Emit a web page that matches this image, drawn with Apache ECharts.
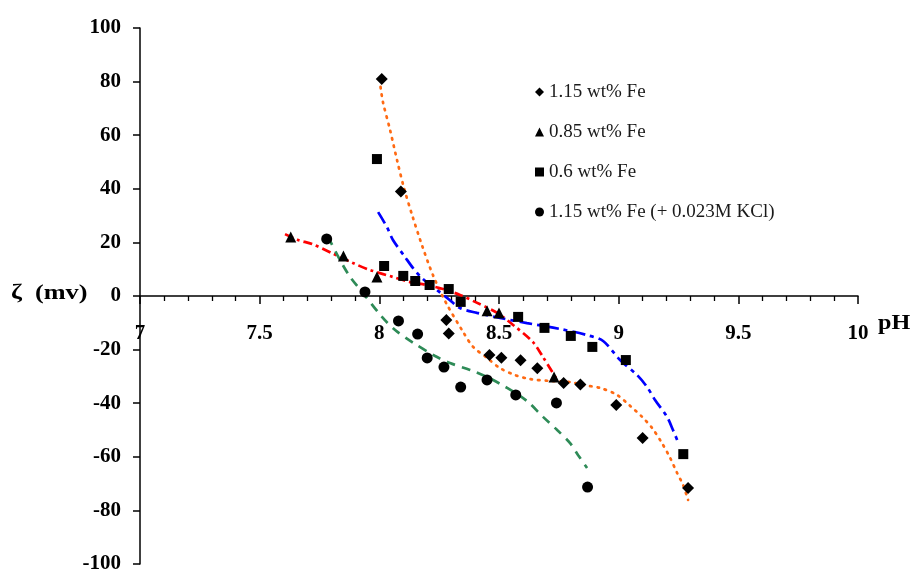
<!DOCTYPE html>
<html>
<head>
<meta charset="utf-8">
<script src="https://cdn.jsdelivr.net/npm/echarts@6/dist/echarts.min.js"></script>
<style>
html,body{margin:0;padding:0;background:#fff;}
#chart{width:911px;height:572px;}
</style>
</head>
<body>
<div id="chart"></div>
<script>
// ---- measured points ----
const phFe115 = [8.01, 8.09, 8.28, 8.29, 8.46, 8.51, 8.59, 8.66, 8.77, 8.84, 8.99, 9.10, 9.29];
const zetaFe115 = [81, 39, -9, -14, -22, -23, -24, -27, -32.5, -33, -40.7, -53, -71.6];

const phFe085 = [7.63, 7.85, 7.99, 8.45, 8.50, 8.73];
const zetaFe085 = [22, 14.9, 7.1, -5.5, -6.3, -30.2];

const phFe06 = [7.99, 8.02, 8.10, 8.15, 8.21, 8.29, 8.34, 8.58, 8.69, 8.80, 8.89, 9.03, 9.27];
const zetaFe06 = [51.1, 11.2, 7.5, 5.6, 4.1, 2.6, -2.2, -7.8, -11.9, -14.9, -19.0, -23.9, -59.0];

const phKCl = [7.78, 7.94, 8.08, 8.16, 8.20, 8.27, 8.34, 8.45, 8.57, 8.74, 8.87];
const zetaKCl = [21.3, 1.5, -9.3, -14.2, -23.1, -26.5, -34.0, -31.3, -36.9, -39.9, -71.3];

// ---- trend lines ----
const phTrendFe115 = [8.005, 8.015, 8.045, 8.074, 8.103, 8.137, 8.178, 8.224, 8.279, 8.350, 8.392, 8.450, 8.504, 8.567, 8.630, 8.713, 8.797, 8.851, 8.922, 8.993, 9.048, 9.098, 9.140, 9.181, 9.215, 9.244, 9.269, 9.290];
const zetaTrendFe115 = [78.0, 72.4, 61.9, 50.7, 40.3, 30.2, 19.0, 7.8, -2.6, -13.4, -19.0, -23.1, -26.9, -29.5, -31.0, -31.7, -32.1, -33.2, -34.3, -36.9, -41.0, -45.1, -49.3, -54.9, -60.4, -66.0, -70.5, -76.1];

const phTrendFe085 = [7.606, 7.660, 7.719, 7.802, 7.890, 7.961, 8.057, 8.128, 8.199, 8.266, 8.337, 8.400, 8.492, 8.559, 8.642, 8.684, 8.743];
const zetaTrendFe085 = [23.1, 20.9, 19.4, 16.0, 12.3, 9.7, 7.1, 5.2, 4.1, 2.6, 0.4, -2.2, -6.3, -10.8, -17.2, -22.8, -31.3];

const phTrendFe06 = [7.995, 8.032, 8.057, 8.107, 8.141, 8.178, 8.241, 8.283, 8.337, 8.408, 8.504, 8.617, 8.755, 8.868, 8.935, 9.006, 9.077, 9.119, 9.152, 9.202, 9.227, 9.248];
const zetaTrendFe06 = [31.3, 25.7, 20.9, 14.6, 10.4, 6.7, 2.2, -0.7, -4.5, -6.3, -8.2, -10.1, -12.3, -14.6, -16.8, -23.9, -29.5, -34.0, -38.8, -45.1, -50.0, -54.5];

const phTrendKCl = [7.786, 7.836, 7.878, 7.932, 8.011, 8.066, 8.137, 8.233, 8.295, 8.379, 8.450, 8.534, 8.617, 8.684, 8.743, 8.797, 8.830, 8.868];
const zetaTrendKCl = [22.0, 13.4, 7.1, 1.1, -7.8, -12.7, -17.2, -22.4, -25.0, -27.6, -30.2, -34.3, -39.2, -45.1, -50.0, -54.9, -59.3, -64.2];

const seriesNames = ['1.15 wt% Fe', '0.85 wt% Fe', '0.6 wt% Fe', '1.15 wt% Fe (+ 0.023M KCl)'];
const xTicks = [7, 7.5, 8, 8.5, 9, 9.5, 10];
const yTicks = [-100, -80, -60, -40, -20, 0, 20, 40, 60, 80, 100];

function pairs(xs, ys) { return xs.map((x, i) => [x, ys[i]]); }

const serif = '"Liberation Serif", "Times New Roman", serif';

function trend(name, xs, ys, color, dash, cap) {
  return {
    type: 'line', name: name, data: pairs(xs, ys), smooth: 0.3,
    showSymbol: false, symbol: 'none', z: 2, silent: true,
    lineStyle: { color: color, width: 2.7, type: dash, cap: cap || 'butt' }
  };
}
function pts(name, xs, ys, symbol, size) {
  return {
    type: 'scatter', name: name, data: pairs(xs, ys), symbol: symbol,
    symbolSize: size, z: 5, itemStyle: { color: '#000', opacity: 1 }
  };
}

const chart = echarts.init(document.getElementById('chart'), null, { renderer: 'canvas' });
chart.setOption({
  animation: false,
  backgroundColor: '#fff',
  grid: { left: 140, right: 53, top: 28, bottom: 8, containLabel: false, outerBoundsMode: 'none' },
  legend: {
    data: seriesNames, orient: 'vertical', left: 530, top: 77,
    itemWidth: 9, itemHeight: 9, itemGap: 20,
    textStyle: { fontFamily: serif, fontSize: 19, color: '#1a1a1a', lineHeight: 20 }
  },
  xAxis: {
    type: 'value', min: 7, max: 10, interval: 0.5,
    offset: -268,
    axisLine: { onZero: false, lineStyle: { color: '#000', width: 1.5 } },
    axisTick: { show: true, length: 8, lineStyle: { color: '#000', width: 1.5 } },
    minorTick: { show: true, splitNumber: 5, length: 5, lineStyle: { color: '#000', width: 1.3 } },
    splitLine: { show: false },
    axisLabel: {
      margin: 27, fontFamily: serif, fontWeight: 'bold', fontSize: 21, color: '#000',
      formatter: v => (xTicks.indexOf(v) >= 0 ? String(v) : '')
    }
  },
  yAxis: {
    type: 'value', min: -100, max: 100, interval: 20,
    axisLine: { show: true, onZero: false, lineStyle: { color: '#000', width: 1.5 } },
    axisTick: { show: true, length: 7, lineStyle: { color: '#000', width: 1.5 } },
    splitLine: { show: false },
    axisLabel: {
      margin: 19, fontFamily: serif, fontWeight: 'bold', fontSize: 21, color: '#000',
      formatter: v => (yTicks.indexOf(v) >= 0 ? String(v) : '')
    }
  },
  graphic: [
    { type: 'text', x: 11, y: 283, scaleX: 1.25, style: { text: 'ζ  (mv)', font: 'bold 21px ' + serif, fill: '#000' } },
    { type: 'text', x: 878, y: 313, scaleX: 1.15, style: { text: 'pH', font: 'bold 21px ' + serif, fill: '#000' } }
  ],
  series: [
    trend('fit-115', phTrendFe115, zetaTrendFe115, '#ff6a13', [1.5, 6], 'round'),
    trend('fit-085', phTrendFe085, zetaTrendFe085, '#ff0000', [9, 4, 3, 4]),
    trend('fit-06', phTrendFe06, zetaTrendFe06, '#0000ff', [13, 5, 4, 5]),
    trend('fit-kcl', phTrendKCl, zetaTrendKCl, '#2e8b57', [9, 7]),
    pts(seriesNames[0], phFe115, zetaFe115, 'diamond', 12),
    pts(seriesNames[1], phFe085, zetaFe085, 'triangle', 11),
    pts(seriesNames[2], phFe06, zetaFe06, 'rect', 10),
    pts(seriesNames[3], phKCl, zetaKCl, 'circle', 11)
  ]
});
</script>
</body>
</html>
